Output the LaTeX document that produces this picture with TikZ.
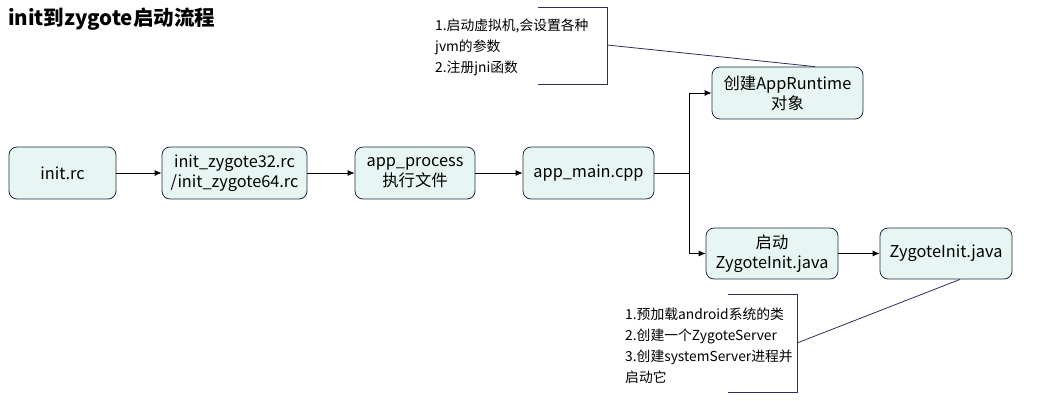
\documentclass[tikz,border=0pt]{standalone}
\usepackage{fontspec}
\setmainfont{Noto Sans CJK SC}
\usetikzlibrary{arrows.meta,calc}
\definecolor{boxfill}{HTML}{E8F6F3}
\definecolor{boxline}{HTML}{1F2A44}
\definecolor{noteline}{HTML}{2C2F5A}
\begin{document}
\begin{tikzpicture}[x=1pt,y=-1pt,
  stepbox/.style={draw=boxline,fill=boxfill,rounded corners=8pt,line width=0.8pt,
    minimum height=52pt,align=center,inner sep=2pt,font=\fontsize{16.3}{20}\selectfont},
  conn/.style={draw=black,line width=0.8pt,-{Latex[length=7pt,width=6pt]}},
  notetext/.style={anchor=west,align=left,inner sep=0pt,font=\fontsize{13.8}{21}\selectfont},
  bracket/.style={draw=noteline,line width=0.8pt},
  link/.style={draw=noteline,line width=0.8pt}]
\useasboundingbox (0,0) rectangle (1041,400);
\node[anchor=west,inner sep=0pt,font=\fontsize{20.5}{24}\selectfont\bfseries] (title) at (8,19) {init到zygote启动流程};

\node[stepbox,minimum width=107pt] (initrc) at (62.5,173) {init.rc};
\node[stepbox,minimum width=145pt] (zygrc) at (234.5,173) {init\_zygote32.rc\\/init\_zygote64.rc};
\node[stepbox,minimum width=120pt] (appproc) at (415,173) {app\_process\\执行文件};
\node[stepbox,minimum width=131pt] (appmain) at (588.5,173) {app\_main.cpp};
\node[stepbox,minimum width=151pt] (apprt) at (787.5,93) {创建AppRuntime\\对象};
\node[stepbox,minimum width=132pt,minimum height=51pt] (startzi) at (772,253.5) {启动\\ZygoteInit.java};
\node[stepbox,minimum width=132pt,minimum height=51pt] (zi) at (946,253.5) {ZygoteInit.java};

\draw[conn] (initrc) -- (zygrc);
\draw[conn] (zygrc) -- (appproc);
\draw[conn] (appproc) -- (appmain);
\coordinate (split) at (689,173);
\draw[conn] (appmain.east) -- (split) |- (apprt.west);
\draw[conn] (split) |- (startzi.west);
\draw[conn] (startzi) -- (zi);

% note 1
\node[notetext] (note1) at (435,47) {1.启动虚拟机,会设置各种\\jvm的参数\\2.注册jni函数};
\draw[bracket] (538,7) -- (607,7) -- (607,84) -- (538,84);
\coordinate (n1tip) at (607,45);
\draw[link] (n1tip) -- ($(apprt.north)+(27.5,0)$);

% note 2
\node[notetext] (note2) at (625,346) {1.预加载android系统的类\\2.创建一个ZygoteServer\\3.创建systemServer进程并\\启动它};
\draw[bracket] (728,294) -- (797,294) -- (797,392) -- (728,392);
\coordinate (n2tip) at (797,343);
\draw[link] (n2tip) -- ($(zi.south)+(14,0)$);
\end{tikzpicture}
\end{document}
